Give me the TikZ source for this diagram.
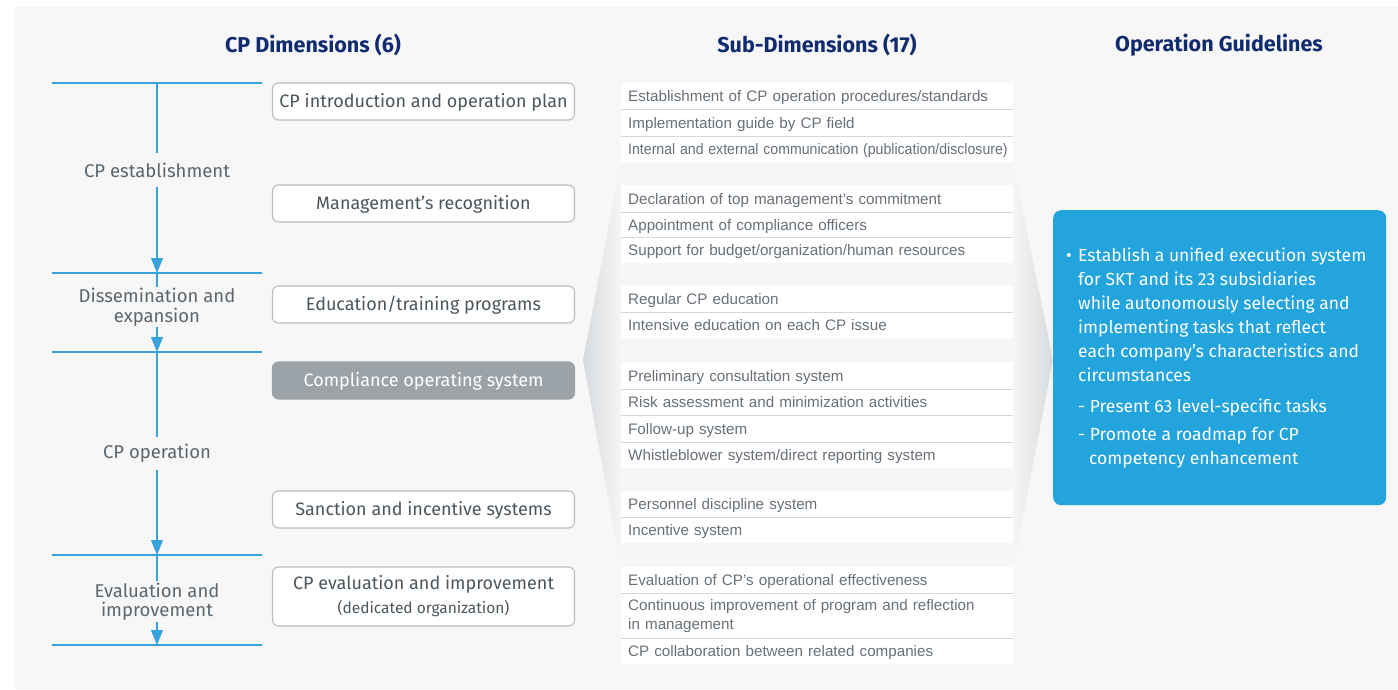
\documentclass[tikz,border=0pt]{standalone}
\usepackage{fontspec}
\usepackage{graphicx}
\setmainfont{Fira Sans}
\newfontfamily\rowfont{Liberation Sans}
\usetikzlibrary{arrows.meta}
\definecolor{bg}{HTML}{F7F7F7}
\definecolor{lineblue}{HTML}{3AA2DA}
\definecolor{labc}{HTML}{5B666E}
\definecolor{boxtext}{HTML}{4B565D}
\definecolor{boxborder}{HTML}{B9BEC2}
\definecolor{grayfill}{HTML}{9CA3A8}
\definecolor{rowtext}{HTML}{68717A}
\definecolor{sepc}{HTML}{D5D9DC}
\definecolor{guideblue}{HTML}{23A4DD}
\definecolor{navy}{HTML}{102C6E}
\definecolor{funfg}{HTML}{D7DADD}
\definecolor{funbg}{HTML}{F5F6F6}
\begin{document}
\begin{tikzpicture}[x=1pt,y=-1pt,
  title/.style={font=\fontsize{21.5}{24}\selectfont\bfseries, text=navy, inner sep=0},
  hline/.style={draw=lineblue, line width=1.1pt},
  vline/.style={draw=lineblue, line width=1.1pt},
  arr/.style={vline, -{Triangle[length=15pt,width=12pt]}},
  lab/.style={font=\fontsize{18.5}{19.5}\selectfont, text=labc, align=center, inner xsep=0},
  cpbox/.style={draw=boxborder, line width=1.1pt, fill=white, rounded corners=6pt,
     minimum width=302pt, minimum height=37pt, inner sep=0, text=boxtext,
     font=\fontsize{18}{25}\selectfont, align=center},
  cpone/.style={cpbox, text height=16pt, text depth=4pt},
  cpgray/.style={cpone, fill=grayfill, draw=grayfill, text=white},
  row/.style={fill=white, anchor=north west, minimum height=26pt, text width=378pt,
     inner xsep=7pt, inner ysep=0, text=rowtext, font=\rowfont\fontsize{15.2}{19}\selectfont, align=left},
  srow/.style={row, text height=13.8pt, text depth=3.2pt},
  sep/.style={draw=sepc, line width=1pt},
  guide/.style={fill=guideblue, rounded corners=8pt, minimum width=333pt, minimum height=295pt,
     anchor=north west, inner sep=0},
  guidetext/.style={text=white, font=\fontsize{17.5}{24}\selectfont, align=left, inner sep=0, anchor=north west}
]
\useasboundingbox (0,0) rectangle (1398,689);
\fill[bg] (15,7) rectangle (1398,689);

% titles
\node[title] (t1) at (313,45) {CP Dimensions (6)};
\node[title] (t2) at (817,45) {Sub-Dimensions (17)};
\node[title] (t3) at (1219,45) {Operation Guidelines};

% funnel wedges
\shade[left color=funfg, right color=funbg] (583,360) -- (621,162) -- (621,568) -- cycle;
\shade[left color=funbg, right color=funfg] (1013,162) -- (1053,360) -- (1013,568) -- cycle;
\fill[funbg] (621,162) rectangle (1013,568);

% left column horizontal lines
\draw[hline] (52,83) -- (262,83);
\draw[hline] (52,273) -- (262,273);
\draw[hline] (52,352) -- (262,352);
\draw[hline] (52,555) -- (262,555);
\draw[hline] (52,645) -- (262,645);
\coordinate (h1) at (157,83);
\coordinate (h2) at (157,273);
\coordinate (h3) at (157,352);
\coordinate (h4) at (157,555);
\coordinate (h5) at (157,645);

\node[lab, inner ysep=9pt] (L1) at (157,170) {CP establishment};
\node[lab, inner ysep=1pt] (L2) at (157,307) {Dissemination and\\expansion};
\node[lab, inner ysep=7pt] (L3) at (157,453.5) {CP operation};
\node[lab, inner ysep=1pt] (L4) at (157,601.5) {Evaluation and\\improvement};

\draw[vline] (h1) -- (L1);
\draw[arr] (L1) -- (h2);
\draw[vline] (h2) -- (L2);
\draw[arr] (L2) -- (h3);
\draw[vline] (h3) -- (L3);
\draw[arr] (L3) -- (h4);
\draw[vline] (h4) -- (L4);
\draw[arr] (L4) -- (h5);

% CP dimension boxes
\node[cpone] (B1) at (423.5,101.5) {CP introduction and operation plan};
\node[cpone] (B2) at (423.5,203.5) {Management’s recognition};
\node[cpone] (B3) at (423.5,304.5) {Education/training programs};
\node[cpgray] (B4) at (423.5,380.5) {Compliance operating system};
\node[cpone] (B5) at (423.5,509.5) {Sanction and incentive systems};
\node[cpbox, minimum height=59pt] (B6) at (423.5,596.5) {CP evaluation and improvement\\[-1pt]{\fontsize{15.5}{18}\selectfont (dedicated organization)}};

% sub-dimension rows
\node[srow] (r1) at (621,83) {Establishment of CP operation procedures/standards};
\node[srow, minimum height=27pt] (r2) at (621,109) {Implementation guide by CP field};
\node[srow] (r3) at (621,136) {\scalebox{0.93}[1]{Internal and external communication (publication/disclosure)}};
\draw[sep] (r1.south west) -- (r1.south east);
\draw[sep] (r2.south west) -- (r2.south east);

\node[srow, minimum height=27pt] (r4) at (621,185) {Declaration of top management’s commitment};
\node[srow, minimum height=25pt] (r5) at (621,212) {Appointment of compliance officers};
\node[srow] (r6) at (621,237) {Support for budget/organization/human resources};
\draw[sep] (r4.south west) -- (r4.south east);
\draw[sep] (r5.south west) -- (r5.south east);

\node[srow] (r7) at (621,286) {Regular CP education};
\node[srow] (r8) at (621,312) {Intensive education on each CP issue};
\draw[sep] (r7.south west) -- (r7.south east);

\node[srow, minimum height=27pt] (r9) at (621,362) {Preliminary consultation system};
\node[srow] (r10) at (621,389) {Risk assessment and minimization activities};
\node[srow, minimum height=27pt] (r11) at (621,415) {Follow-up system};
\node[srow] (r12) at (621,442) {Whistleblower system/direct reporting system};
\draw[sep] (r9.south west) -- (r9.south east);
\draw[sep] (r10.south west) -- (r10.south east);
\draw[sep] (r11.south west) -- (r11.south east);

\node[srow] (r13) at (621,491) {Personnel discipline system};
\node[srow] (r14) at (621,517) {Incentive system};
\draw[sep] (r13.south west) -- (r13.south east);

\node[srow] (r15) at (621,567) {Evaluation of CP’s operational effectiveness};
\node[row, minimum height=45pt] (r16) at (621,593) {Continuous improvement of program and reflection\\in management};
\node[srow] (r17) at (621,638) {CP collaboration between related companies};
\draw[sep] (r15.south west) -- (r15.south east);
\draw[sep] (r16.south west) -- (r16.south east);

% operation guidelines
\node[guide] (G) at (1053,210) {};
\node[guidetext] (Gt) at (1066,248) {\makebox[12pt][l]{\textbullet}Establish a unified execution system\\
\hspace*{12pt}for SKT and its 23 subsidiaries\\
\hspace*{12pt}while autonomously selecting and\\
\hspace*{12pt}implementing tasks that reflect\\
\hspace*{12pt}each company’s characteristics and\\
\hspace*{12pt}circumstances\\[7pt]
\hspace*{12pt}- Present 63 level-specific tasks\\[4pt]
\hspace*{12pt}- Promote a roadmap for CP\\
\hspace*{23pt}competency enhancement};
\end{tikzpicture}
\end{document}
